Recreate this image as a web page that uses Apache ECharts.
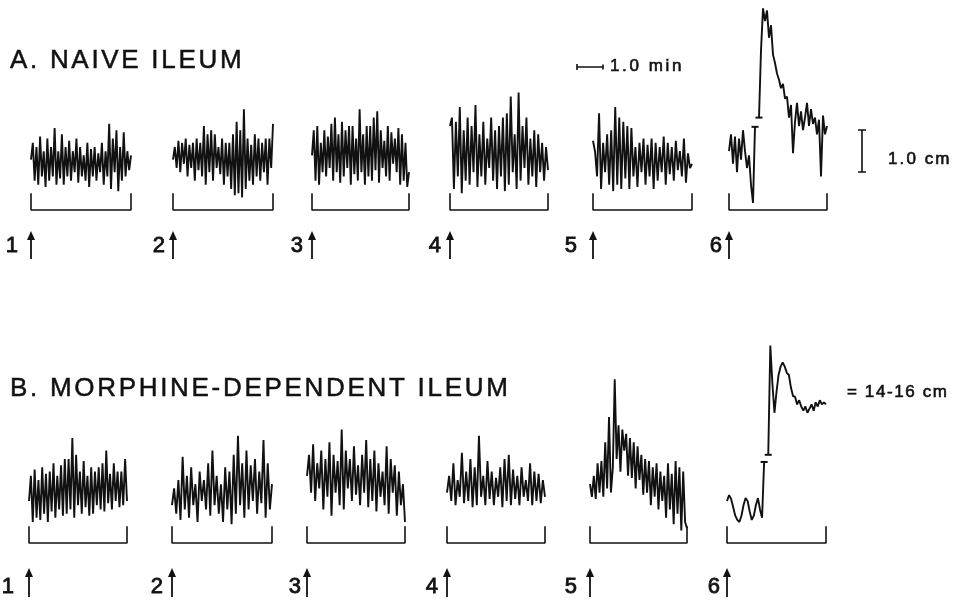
<!DOCTYPE html>
<html>
<head>
<meta charset="utf-8">
<script src="https://cdn.jsdelivr.net/npm/echarts@6/dist/echarts.min.js"></script>
<style>
  html, body { margin: 0; background: #fff; }
  #chart { width: 959px; height: 601px; }
</style>
</head>
<body>
<div id="chart"></div>
<script>
// trace heights in mm of chart paper above the bracket line (1.0 cm = 10)
// null = break in the record
const naive1 = [12, 16, 7, 15, 6, 17.5, 8, 14, 5.5, 17, 7, 15, 8, 19.5, 6, 14, 7.5, 18, 6, 15, 8, 16.5, 7, 14, 9, 17, 6.5, 15, 8, 13, 7, 16, 5.5, 14.5, 8, 15, 7, 13.5, 9, 16, 6, 14, 8, 20.5, 5, 17, 9, 19, 4.5, 15, 7, 18.5, 8, 14, 9.5, 13]
const naive2 = [12, 15, 10, 16.5, 9, 16, 11, 17, 8, 15.5, 10, 16, 7, 17, 9.5, 16, 8, 20, 6, 18, 9, 19, 7, 18, 10, 15, 8.5, 17, 6, 16, 8, 16, 5, 18, 3.5, 21, 4, 19, 3, 24, 5, 17, 7, 15.5, 6, 18, 8, 17, 7, 16, 9, 17, 6, 17, 10, 20.5]
const naive3 = [13, 19, 7, 20, 6, 16, 9, 19, 8, 17.5, 10, 20.5, 7, 22, 9, 18, 6.5, 21, 8, 19, 10, 20, 6, 20, 8.5, 17, 7, 24, 9, 18, 6, 20, 8, 20, 7, 22, 9.5, 23.5, 6.5, 19, 10, 16.5, 8, 20, 7, 18.5, 11, 17, 9, 19.5, 6, 18, 7, 16, 5.5, 9]
const naive4 = [20, 22, 5, 21, 8, 24.5, 4, 19, 7, 22, 6, 20, 9, 25, 5.5, 18, 8, 21, 6, 17, 10, 22, 7, 19, 5, 20, 8, 22, 4.5, 23, 6, 27, 9, 18, 5, 28, 7, 20, 10, 22, 6, 17, 8, 19, 5.5, 18, 9, 16, 7, 15, 9.5]
const naive5 = [16.5, 14, 8, 23, 5, 16, 9, 18, 6, 19, 4.5, 24.5, 6, 22, 5, 21, 7.5, 20, 5, 19.5, 8, 15, 5.5, 16, 9, 17, 6, 15.5, 8, 17, 5, 16, 7, 15, 9, 17.5, 6, 16, 8.5, 15, 7, 16.5, 9.5, 14, 8, 17, 6.5, 13.5, 10, 11]
const naive6 = [14, 18, 11, 17.5, 9, 17, 12, 19, 14, 10, 13, 6, 1.7, 19.8, null, 22, 38, 48, 45, 47.5, 41, 44, 37, 35, 32.5, 31, 29, 30, 26.5, 27, 22, 25, 13.5, 21, 25.5, 20, 23.5, 19, 22, 25.5, 20, 24, 20.5, 22, 18, 21.5, 8, 22.5, 18, 20]

const morphine1 = [10, 16, 5, 17.5, 6, 15, 5.5, 18, 7, 16.5, 5, 17, 7.5, 19, 6, 16, 8, 18.5, 6.5, 20, 7, 20, 8, 25, 6, 21, 9, 17, 7, 19.5, 8.5, 16, 6.5, 18, 7, 17, 9, 18, 8, 19, 7.5, 22, 9.5, 16.5, 8, 19, 10, 17, 8.5, 17, 9, 20, 10]
const morphine2 = [9, 13, 7, 15, 5.5, 20.5, 8, 16, 6, 18, 9, 14, 5, 17, 10, 15, 8, 19, 6.5, 22, 9, 16, 7, 14, 5, 18, 8, 17, 4.5, 21, 7, 25.5, 9, 19, 6, 22, 8, 18.5, 10, 20, 7, 17, 9.5, 24.5, 6, 19, 8, 14]
const morphine3 = [16, 21, 12, 23.5, 10, 19, 13, 22, 8, 20, 11, 24, 6.5, 21, 12, 19.5, 9, 27, 8, 22, 13, 20, 10, 23, 11.5, 18.5, 9, 21, 12, 24.5, 8.5, 20, 10, 22, 7.5, 19, 11, 17, 9, 23, 7, 20, 12, 18.5, 6.5, 17, 9, 14, 5]
const morphine4 = [12, 16, 10, 19, 9, 15, 11, 21.5, 9.5, 17, 10, 20, 8.5, 18, 9, 25.5, 11, 16, 9, 19.5, 10.5, 17, 9, 15.5, 11, 18, 8.5, 20, 10, 21, 9, 17.5, 10.5, 16, 9, 18, 11, 15, 10, 19, 9, 17, 10, 16.5, 9.5, 15, 11]
const morphine5 = [14, 11, 16, 10.5, 19, 12, 19.5, 11, 24, 13, 30, 12, 18, 39, 20, 28, 17, 27, 22, 26, 16, 25, 15.5, 24, 13, 23, 15, 21, 11.5, 20, 12, 19.5, 9, 18, 11, 19, 8, 17, 10, 16, 6, 19, 8, 16.5, 4.5, 19.5, 7, 18, 3, 17, 5, 3.5]
const morphine6 = [10, 11.4, 10.5, 8.5, 6.5, 5.5, 5, 6.5, 9, 10.7, 10, 7.5, 5.5, 6.5, 9, 10.7, 8, 6, 19.3, null, 21, 47, 38, 31, 36, 40, 42, 43, 42, 40.5, 40, 37, 35, 34.8, 33, 34, 32.5, 31.5, 32.5, 31, 32, 33, 31.5, 33.5, 32.5, 34, 33, 33.5, 33]

const naiveTraces = [naive1, naive2, naive3, naive4, naive5, naive6]
const morphineTraces = [morphine1, morphine2, morphine3, morphine4, morphine5, morphine6]
const panelLabels = ['1', '2', '3', '4', '5', '6']
const rowTitles = ['A. NAIVE ILEUM', 'B. MORPHINE-DEPENDENT ILEUM']
const timeScaleLabel = '1.0 min'
const heightScaleLabel = '1.0 cm'
const fullScaleLabel = '= 14-16 cm'
const bracketHeight = 4 // mm
const scaleCm = 10 // mm

// layout
const INK = '#111'
const FONT = '"Liberation Sans", Arial, sans-serif'
const PX_PER_MM = 4.2
const Y_MAX = 50
const rows = [
  {
    traces: naiveTraces, bottom: 210, titleY: 61,
    lefts: [31, 173, 312, 450, 593, 729], rights: [131, 273, 409, 548, 692, 827],
    digitRight: [18, 165, 303, 441, 577, 722], digitY: 246, arrowTop: 231, arrowBottom: 259
  },
  {
    traces: morphineTraces, bottom: 543, titleY: 389,
    lefts: [29, 172, 307, 447, 590, 727], rights: [127, 272, 405, 545, 687, 826],
    digitRight: [14, 163, 301, 438, 577, 720], digitY: 587, arrowTop: 568, arrowBottom: 597
  }
]

const ruler = document.createElement('canvas').getContext('2d')
function spacedText(str, x, y, size, gap, weight) {
  ruler.font = size + 'px "Liberation Sans"'
  let cx = x
  return Array.from(str).map(ch => {
    const el = {
      type: 'text', x: cx, y: y, silent: true,
      style: {
        text: ch, fontSize: size, fontFamily: FONT, fill: INK,
        stroke: INK, lineWidth: weight,
        textVerticalAlign: 'middle', verticalAlign: 'middle'
      }
    }
    cx += ruler.measureText(ch).width + gap
    return el
  })
}

const grid = [], xAxis = [], yAxis = [], series = [], graphic = []

rows.forEach((row, r) => {
  graphic.push(...spacedText(rowTitles[r], 10, row.titleY, 26, 2.7, 0.5))
  row.traces.forEach((trace, i) => {
    const gi = grid.length
    const n = trace.length
    grid.push({
      left: row.lefts[i], width: row.rights[i] - row.lefts[i],
      top: row.bottom - Y_MAX * PX_PER_MM, height: Y_MAX * PX_PER_MM
    })
    xAxis.push({ type: 'value', gridIndex: gi, min: 0, max: n - 1, show: false })
    yAxis.push({ type: 'value', gridIndex: gi, min: 0, max: Y_MAX, show: false })
    const breakAt = trace.indexOf(null)
    series.push({
      type: 'line', xAxisIndex: gi, yAxisIndex: gi,
      data: trace.map((v, k) => [k, v === null ? '-' : v]),
      showSymbol: false, connectNulls: false, clip: false, silent: true,
      lineStyle: { color: INK, width: 1.9 },
      markPoint: breakAt < 0 ? undefined : {
        symbol: 'rect', symbolSize: [7, 2], silent: true,
        itemStyle: { color: INK }, label: { show: false },
        data: [
          { coord: [breakAt - 1, trace[breakAt - 1]] },
          { coord: [breakAt + 1, trace[breakAt + 1]] }
        ]
      }
    })
    // bracket under each record
    series.push({
      type: 'line', xAxisIndex: gi, yAxisIndex: gi,
      data: [[0, bracketHeight], [0, 0], [n - 1, 0], [n - 1, bracketHeight]],
      showSymbol: false, clip: false, silent: true,
      lineStyle: { color: INK, width: 1.6 }
    })
    // numbered arrow
    const ax = row.lefts[i]
    graphic.push({
      type: 'line', silent: true,
      shape: { x1: ax, y1: row.arrowTop + 6, x2: ax, y2: row.arrowBottom },
      style: { stroke: INK, lineWidth: 1.8 }
    })
    graphic.push({
      type: 'polygon', silent: true,
      shape: { points: [[ax - 4, row.arrowTop + 9], [ax, row.arrowTop], [ax + 4, row.arrowTop + 9]] },
      style: { fill: INK }
    })
    graphic.push({
      type: 'text', x: row.digitRight[i], y: row.digitY, silent: true,
      style: { text: panelLabels[i], fontSize: 22, fontFamily: FONT, fill: INK,
        stroke: INK, lineWidth: 0.8,
        textAlign: 'right', align: 'right', textVerticalAlign: 'middle', verticalAlign: 'middle' }
    })
  })
})

// 1.0 min time bar
graphic.push({
  type: 'polyline', silent: true,
  shape: { points: [[577, 64], [577, 70], [577, 67], [603, 67], [603, 64.5], [603, 69.5]] },
  style: { stroke: INK, lineWidth: 1.6, fill: null }
})
graphic.push(...spacedText(timeScaleLabel, 610, 66, 17, 2.6, 0.6))

// 1.0 cm height bar
const barTop = 130, barBottom = barTop + scaleCm * PX_PER_MM
graphic.push({
  type: 'polyline', silent: true,
  shape: { points: [[858, barTop], [866, barTop], [862, barTop], [862, barBottom], [858, barBottom], [866, barBottom]] },
  style: { stroke: INK, lineWidth: 1.6, fill: null }
})
graphic.push(...spacedText(heightScaleLabel, 888, 159, 17, 2.1, 0.6))
graphic.push(...spacedText(fullScaleLabel, 847, 392, 17, 1.6, 0.6))

const chart = echarts.init(document.getElementById('chart'), null, { renderer: 'canvas' })
chart.setOption({
  animation: false,
  backgroundColor: '#fff',
  grid, xAxis, yAxis, series, graphic
})
</script>
</body>
</html>
